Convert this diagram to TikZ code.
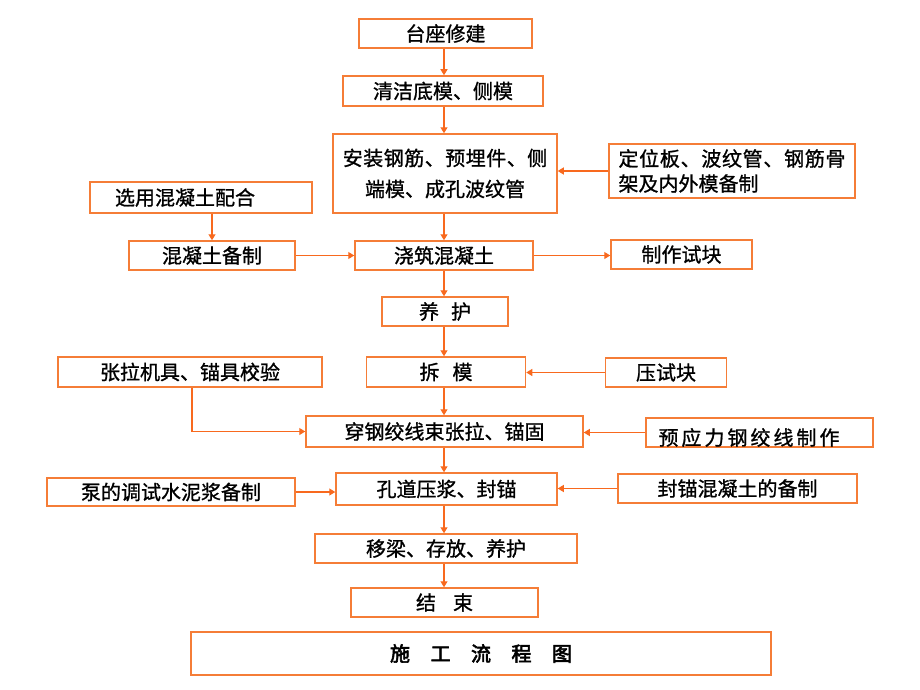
\documentclass[tikz,border=0pt]{standalone}
\usepackage{fontspec}
\setmainfont[FakeBold=1]{Noto Sans CJK SC}
\newfontfamily\cjkbold[FakeBold=3]{Noto Sans CJK SC}
\usetikzlibrary{arrows.meta}
\definecolor{boxc}{RGB}{245,125,55}
\definecolor{arrc}{RGB}{248,105,30}
\newcommand\LS[2]{\def\lsamt{#1}\mbox{\lsB#2\relax}}
\def\lsB#1{#1\lsA}
\def\lsA#1{\ifx\relax#1\else\kern\lsamt\relax#1\expandafter\lsA\fi}
\begin{document}
\begin{tikzpicture}[x=1pt,y=-1pt,
  box/.style={draw=boxc, line width=1.5pt, inner sep=0pt, align=center, font=\fontsize{20}{24}\selectfont},
  arr/.style={draw=arrc, line width=1.2pt, -{Triangle[length=6pt,width=7pt]}}]
\useasboundingbox (0,0) rectangle (920,690);
\coordinate (sp) at (444,0);
\node[box, minimum width=173, minimum height=29] (n1) at (445.5,33.5) {台座修建};
\node[box, minimum width=200, minimum height=30] (n2) at (443,91) {清洁底模、侧模};
\node[box, minimum width=224, minimum height=79, font=\fontsize{20}{31}\selectfont] (n3) at (445,173.5) {\LS{0.5pt}{安装钢筋、预埋件、侧}\\端模、成孔波纹管};
\node[box, minimum width=246, minimum height=54, align=left, font=\fontsize{20}{25}\selectfont] (n4) at (732,171) {\LS{0.7pt}{定位板、波纹管、钢筋骨}\\架及内外模备制};
\node[box, minimum width=222, minimum height=31] (n5) at (201,197.5) {选用混凝土配合\hspace{32pt}};
\node[box, minimum width=166, minimum height=29] (n6) at (212,255.5) {混凝土备制};
\node[box, minimum width=178, minimum height=29] (n7) at (444,255.5) {浇筑混凝土};
\node[box, minimum width=141, minimum height=29] (n8) at (681.5,254.5) {制作试块};
\node[box, minimum width=126, minimum height=29] (n9) at (445,311.5) {养\hspace{12pt}护};
\node[box, minimum width=159, minimum height=30] (n10) at (446,372) {拆\hspace{13pt}模};
\node[box, minimum width=264, minimum height=30] (n11) at (190,372) {张拉机具、锚具校验};
\node[box, minimum width=121, minimum height=29] (n12) at (666,372.5) {压试块};
\node[box, minimum width=277, minimum height=31] (n13) at (444.5,431.5) {穿钢绞线束张拉、锚固};
\node[box, minimum width=227, minimum height=29] (n14) at (759.5,432.5) {};
\node[font=\fontsize{20}{24}\selectfont, inner sep=0pt] (t14) at (749,437.5) {\LS{3pt}{预应力钢绞线制作}};
\node[box, minimum width=248, minimum height=28] (n15) at (171,492) {泵的调试水泥浆备制};
\node[box, minimum width=221, minimum height=32] (n16) at (446.5,489) {孔道压浆、封锚};
\node[box, minimum width=239, minimum height=29] (n17) at (737.5,488.5) {封锚混凝土的备制};
\node[box, minimum width=262, minimum height=29] (n18) at (446,548.5) {移梁、存放、养护};
\node[box, minimum width=187, minimum height=29] (n19) at (444.5,602.5) {结\hspace{17pt}束};
\node[box, minimum width=580, minimum height=43, font=\fontsize{20}{24}\cjkbold] (n20) at (481,653.5) {\LS{20.5pt}{施工流程图}};
% spine arrows
\draw[arr] (n1.south -| sp) -- (n2.north -| sp);
\draw[arr] (n2.south -| sp) -- (n3.north -| sp);
\draw[arr] (n3.south -| sp) -- (n7.north -| sp);
\draw[arr] (n7.south -| sp) -- (n9.north -| sp);
\draw[arr] (n9.south -| sp) -- (n10.north -| sp);
\draw[arr] (n10.south -| sp) -- (n13.north -| sp);
\draw[arr] (n13.south -| sp) -- (n16.north -| sp);
\draw[arr] (n16.south -| sp) -- (n18.north -| sp);
\draw[arr] (n18.south -| sp) -- (n19.north -| sp);
% side arrows
\draw[arr] (n4.west) -- (n4.west -| n3.east);
\draw[arr] (n6.north |- n5.south) -- (n6.north);
\draw[arr] (n6.east) -- (n6.east -| n7.west);
\draw[arr] (n7.east) -- (n7.east -| n8.west);
\draw[arr] (n12.west) -- (n12.west -| n10.east);
\draw[arr] ([xshift=2pt]n11.south) |- (n13.west);
\draw[arr] (n14.west) -- (n14.west -| n13.east);
\draw[arr] (n15.east) -- (n15.east -| n16.west);
\draw[arr] (n17.west) -- (n17.west -| n16.east);
\end{tikzpicture}
\end{document}
